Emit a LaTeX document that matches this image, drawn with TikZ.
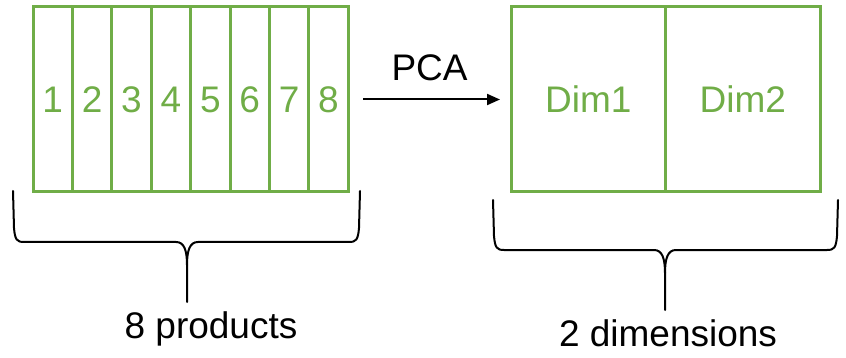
\documentclass[tikz,border=0pt]{standalone}
\usepackage{fontspec}
\setmainfont{Liberation Sans}
\usetikzlibrary{positioning,arrows.meta}
\definecolor{pcagreen}{RGB}{112,173,71}

\begin{document}
\begin{tikzpicture}[x=1pt,y=-1pt,
    cell/.style={draw=pcagreen, line width=3pt, rectangle, minimum width=39.4pt,
        minimum height=185pt, inner sep=0pt, outer sep=0pt, text=pcagreen,
        font=\fontsize{37}{44}\selectfont},
    dimcell/.style={cell, minimum width=154.5pt},
    lbl/.style={inner sep=0pt, font=\fontsize{37}{44}\selectfont},
    brace/.style={line width=2pt, line cap=round}]
\useasboundingbox (0,0) rectangle (846,358);

% Produits
\foreach \i in {1,...,8} {
    \node[cell] (c\i) at ({33+39.4*(\i-0.5)},99.5) {\i};
}

% Dimensions
\node[dimcell] (dim1) at (588.25,99.5) {Dim1};
\node[dimcell, right=0pt of dim1] (dim2) {Dim2};

% Fleche PCA
\draw[-{Triangle[length=13pt,width=11pt]}, line width=2pt, shorten <=15pt, shorten >=11pt]
    (c8) -- node[lbl, above=18pt] (pca) {PCA} (dim1);

% Accolades
\draw[brace] (13,191) -- (14,228) .. controls (15,240) and (17,242) .. (24,242)
    -- (176,242) .. controls (184,242) and (187,250) .. (187,265) -- (187,302);
\draw[brace] (360,191) -- (359,228) .. controls (358,240) and (356,242) .. (349,242)
    -- (198,242) .. controls (190,242) and (187,250) .. (187,265);

\draw[brace] (493,200) -- (494,236) .. controls (495,248) and (497,250) .. (504,250)
    -- (654,250) .. controls (662,250) and (665,258) .. (665,273) -- (665,310);
\draw[brace] (838,200) -- (837,236) .. controls (836,248) and (834,250) .. (827,250)
    -- (676,250) .. controls (668,250) and (665,258) .. (665,273);

% Legendes
\node[lbl, anchor=base] (products) at (211,338) {8 products};
\node[lbl, anchor=base] (dims) at (668,346.5) {2 dimensions};

\end{tikzpicture}
\end{document}
